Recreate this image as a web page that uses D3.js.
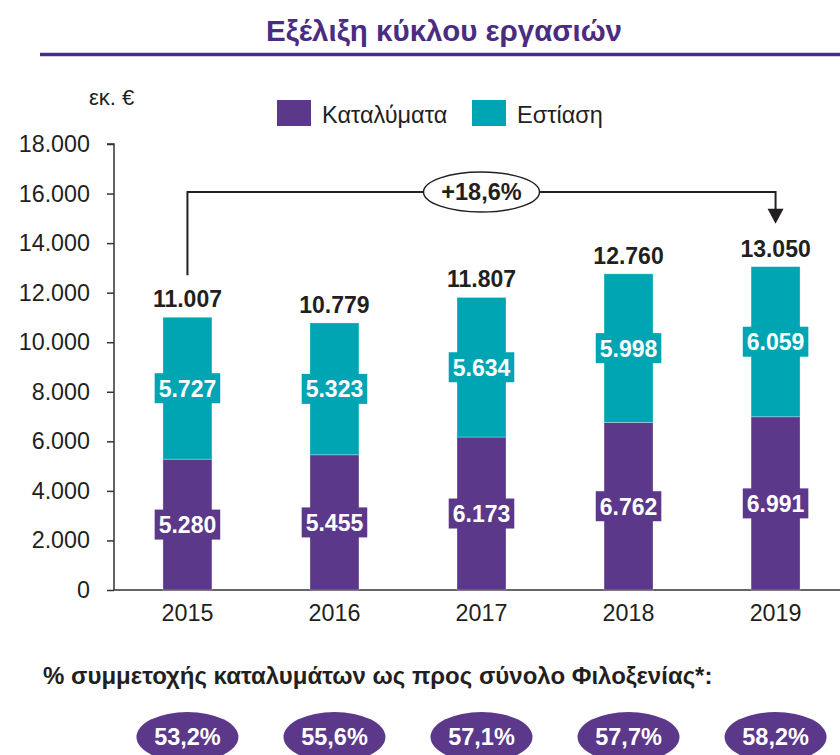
<!DOCTYPE html>
<html>
<head>
<meta charset="utf-8">
<script src="https://cdn.jsdelivr.net/npm/d3@7"></script>
<style>
  body { margin: 0; background: #fff; }
  svg { font-family: "Liberation Sans", Arial, sans-serif; }
</style>
</head>
<body>
<div id="chart"></div>
<script>
    // data
    const years = ['2015', '2016', '2017', '2018', '2019']
    const accommodation = [5280, 5455, 6173, 6762, 6991]
    const food = [5727, 5323, 5634, 5998, 6059]
    const totals = [11007, 10779, 11807, 12760, 13050]
    const shares = [53.2, 55.6, 57.1, 57.7, 58.2]
    const yTicks = [0, 2000, 4000, 6000, 8000, 10000, 12000, 14000, 16000, 18000]
    const seriesNames = ['Καταλύματα', 'Εστίαση']
    const growthLabel = '+18,6%'

    const purple = '#5b3889'
    const teal = '#00a5b4'
    const ink = '#231f20'

    const locale = d3.formatLocale({ decimal: ',', thousands: '.', grouping: [3], currency: ['', '€'] })
    const fmtInt = locale.format(',d')
    const fmtPct = locale.format('.1f')

    const svgWidth = 840
    const svgHeight = 755

    const svg = d3.select('#chart')
        .append('svg')
        .attr('width', svgWidth)
        .attr('height', svgHeight)

    // title
    svg.append('text')
        .text('Εξέλιξη κύκλου εργασιών')
        .attr('x', 444)
        .attr('y', 41)
        .attr('text-anchor', 'middle')
        .attr('font-size', 29.5)
        .attr('font-weight', 'bold')
        .attr('fill', '#4a2c82')

    svg.append('line')
        .attr('x1', 40).attr('x2', svgWidth)
        .attr('y1', 54.5).attr('y2', 54.5)
        .attr('stroke', '#4a2c82')
        .attr('stroke-width', 3.5)

    svg.append('text')
        .text('εκ. €')
        .attr('x', 89)
        .attr('y', 105)
        .attr('font-size', 22)
        .attr('fill', ink)

    // legend
    const legendX = [277, 472]
    const legend = svg.selectAll('.legend')
        .data(seriesNames)
        .join('g')
        .attr('class', 'legend')
        .attr('transform', (d, i) => `translate(${legendX[i]},100)`)

    legend.append('rect')
        .attr('width', 34)
        .attr('height', 26)
        .attr('fill', (d, i) => i == 0 ? purple : teal)

    legend.append('text')
        .text(d => d)
        .attr('x', 45)
        .attr('y', 23)
        .attr('font-size', 23.5)
        .attr('fill', ink)

    // scales
    const xScale = d3.scaleBand()
        .domain(years)
        .range([114, 849])
        .paddingInner(0.667)
        .paddingOuter(0.333)

    const yScale = d3.scaleLinear()
        .domain([0, 18000])
        .range([590, 144])

    const cx = d => xScale(d) + xScale.bandwidth() / 2

    // axes
    const yAxis = d3.axisLeft(yScale)
        .tickValues(yTicks)
        .tickSize(7)
        .tickPadding(17)
        .tickFormat(fmtInt)

    const gy = svg.append('g')
        .attr('transform', 'translate(114,0)')
        .call(yAxis)
    gy.select('.domain').attr('d', `M-7,${yScale(18000)}H0V${yScale(0)}`)
    gy.selectAll('path, line').attr('stroke', '#333').attr('stroke-width', 1.5)
    gy.selectAll('text').attr('font-size', 23.3).attr('fill', ink).attr('font-family', null)

    const xAxis = d3.axisBottom(xScale).tickSize(0).tickPadding(14)
    const gx = svg.append('g')
        .attr('transform', `translate(0,${yScale(0)})`)
        .call(xAxis)
    gx.select('.domain').attr('d', `M114,0H${svgWidth}`).attr('stroke', '#333').attr('stroke-width', 1.5)
    gx.selectAll('text').attr('font-size', 23.3).attr('fill', ink).attr('font-family', null)

    // stacked bars
    const rows = years.map((y, i) => ({ year: y, acc: accommodation[i], food: food[i], total: totals[i], share: shares[i] }))

    const segments = []
    rows.forEach(r => {
        segments.push({ year: r.year, y0: 0, y1: r.acc, value: r.acc, color: purple })
        segments.push({ year: r.year, y0: r.acc, y1: r.acc + r.food, value: r.food, color: teal })
    })

    svg.selectAll('.bar')
        .data(segments)
        .join('rect')
        .attr('class', 'bar')
        .attr('x', d => xScale(d.year))
        .attr('width', xScale.bandwidth())
        .attr('y', d => yScale(d.y1))
        .attr('height', d => yScale(d.y0) - yScale(d.y1))
        .attr('fill', d => d.color)
        .attr('stroke', '#ffffff')
        .attr('stroke-opacity', 0.35)
        .attr('stroke-width', 0.8)

    // segment labels with boxes
    const segLabel = svg.selectAll('.seglabel')
        .data(segments)
        .join('g')
        .attr('class', 'seglabel')
        .attr('transform', d => `translate(${cx(d.year)},${(yScale(d.y0) + yScale(d.y1)) / 2})`)

    segLabel.append('rect')
        .attr('fill', d => d.color)
    segLabel.append('text')
        .text(d => fmtInt(d.value))
        .attr('text-anchor', 'middle')
        .attr('y', 8.5)
        .attr('font-size', 23)
        .attr('font-weight', 'bold')
        .attr('fill', '#fff')
    segLabel.each(function () {
        const g = d3.select(this)
        const w = g.select('text').node().getComputedTextLength()
        g.select('rect')
            .attr('x', -w / 2 - 4)
            .attr('width', w + 8)
            .attr('y', -15)
            .attr('height', 30)
    })

    // totals
    svg.selectAll('.total')
        .data(rows)
        .join('text')
        .attr('class', 'total')
        .text(d => fmtInt(d.total))
        .attr('x', d => cx(d.year))
        .attr('y', d => yScale(d.total) - 10)
        .attr('text-anchor', 'middle')
        .attr('font-size', 23)
        .attr('font-weight', 'bold')
        .attr('fill', ink)

    // growth bracket
    const first = rows[0]
    const last = rows[rows.length - 1]
    const bracketY = 192
    const x0 = cx(first.year)
    const x1 = cx(last.year)
    const tipY = yScale(last.total) - 43

    svg.append('path')
        .attr('d', `M${x0},${yScale(first.total) - 42}V${bracketY}H${x1}V${tipY - 14}`)
        .attr('fill', 'none')
        .attr('stroke', ink)
        .attr('stroke-width', 2)

    svg.append('path')
        .attr('d', `M${x1 - 8},${tipY - 15}L${x1 + 8},${tipY - 15}L${x1},${tipY}Z`)
        .attr('fill', ink)

    svg.append('ellipse')
        .attr('cx', cx(years[2]))
        .attr('cy', bracketY)
        .attr('rx', 58)
        .attr('ry', 20)
        .attr('fill', '#fff')
        .attr('stroke', ink)
        .attr('stroke-width', 1.5)

    svg.append('text')
        .text(growthLabel)
        .attr('x', cx(years[2]))
        .attr('y', bracketY + 8)
        .attr('text-anchor', 'middle')
        .attr('font-size', 23.5)
        .attr('font-weight', 'bold')
        .attr('fill', ink)

    // share of accommodation
    svg.append('text')
        .text('% συμμετοχής καταλυμάτων ως προς σύνολο Φιλοξενίας*:')
        .attr('x', 43)
        .attr('y', 684)
        .attr('font-size', 24)
        .attr('font-weight', 'bold')
        .attr('fill', ink)

    const badge = svg.selectAll('.badge')
        .data(rows)
        .join('g')
        .attr('class', 'badge')
        .attr('transform', d => `translate(${cx(d.year)},737)`)

    badge.append('ellipse')
        .attr('rx', 51)
        .attr('ry', 25)
        .attr('fill', purple)

    badge.append('text')
        .text(d => fmtPct(d.share) + '%')
        .attr('y', 8)
        .attr('text-anchor', 'middle')
        .attr('font-size', 23.5)
        .attr('font-weight', 'bold')
        .attr('fill', '#fff')
</script>
</body>
</html>
